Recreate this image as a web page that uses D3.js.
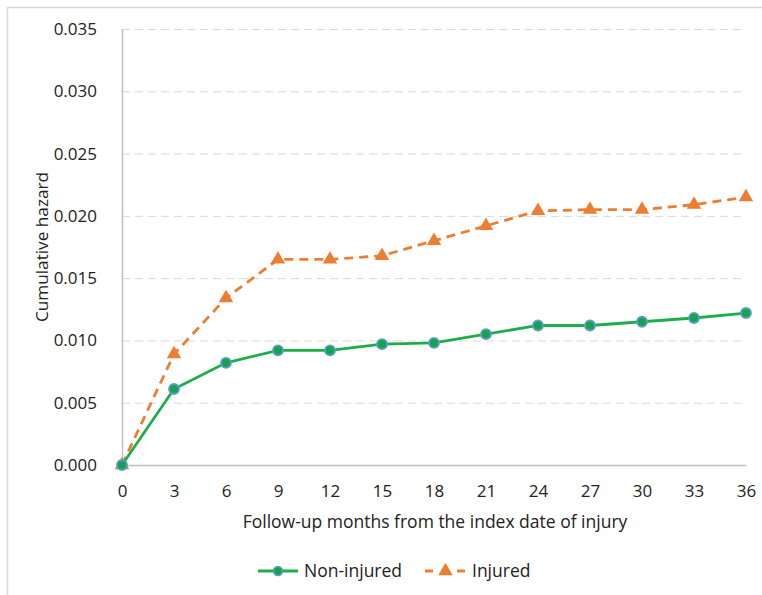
<html>
<head>
<script src="https://d3js.org/d3.v7.min.js"></script>
<style>
  body { margin: 0; background: #fff; }
  text { font-family: "Open Sans", "DejaVu Sans", sans-serif; fill: #222; }
  .gridlines line { stroke: #d9d9d9; stroke-dasharray: 8,5; }
  .gridlines .domain { stroke: none; }
  .axis .domain { stroke: #bfbfbf; stroke-width: 1.5; }
  .axis line { stroke: none; }
</style>
</head>
<body>
<svg id="chart" width="762" height="595"></svg>
<script>
const months = [0, 3, 6, 9, 12, 15, 18, 21, 24, 27, 30, 33, 36];
const nonInjured = [0, 0.0061, 0.0082, 0.0092, 0.0092, 0.0097, 0.0098, 0.0105, 0.0112, 0.0112, 0.0115, 0.0118, 0.0122];
const injured = [0, 0.0089, 0.0134, 0.0165, 0.0165, 0.0168, 0.0180, 0.0192, 0.0204, 0.0205, 0.0205, 0.0209, 0.0215];
const yTicks = [0, 0.005, 0.010, 0.015, 0.020, 0.025, 0.030, 0.035];

const svg = d3.select("svg#chart");
const margin = { top: 29, right: 16, bottom: 130, left: 122 };
const chartWidth = 762 - margin.left - margin.right;
const chartHeight = 595 - margin.top - margin.bottom;

// chart frame
svg.append("rect")
    .attr("x", 7.5).attr("y", 7.5)
    .attr("width", 800).attr("height", 800)
    .attr("fill", "none").attr("stroke", "#d9d9d9").attr("stroke-width", 1.5);

const xScale = d3.scaleLinear().domain([0, 36]).range([0, chartWidth]);
const yScale = d3.scaleLinear().domain([0, 0.035]).range([chartHeight, 0]);

const g = svg.append("g").attr("transform", `translate(${margin.left},${margin.top})`);

// gridlines
g.append("g")
    .attr("class", "gridlines")
    .call(d3.axisLeft(yScale).tickValues(yTicks.slice(1)).tickSize(-chartWidth).tickFormat(""));

// axes
const xAxis = g.append("g")
    .attr("class", "axis")
    .attr("transform", `translate(0,${chartHeight})`)
    .call(d3.axisBottom(xScale).tickValues(months).tickSizeOuter(0).tickPadding(14));
xAxis.selectAll("text").attr("font-size", 17).style("font-family", "'Open Sans', sans-serif");

const yAxis = g.append("g")
    .attr("class", "axis")
    .call(d3.axisLeft(yScale).tickValues(yTicks).tickFormat(d3.format(".3f")).tickSizeOuter(0).tickPadding(19));
yAxis.selectAll("text").attr("font-size", 17).style("font-family", "'Open Sans', sans-serif");

// titles
svg.append("text")
    .attr("x", margin.left + chartWidth / 2 + 1).attr("y", 528)
    .attr("text-anchor", "middle").attr("font-size", 17.5)
    .text("Follow-up months from the index date of injury");

svg.append("text")
    .attr("transform", "translate(48,247) rotate(-90)")
    .attr("text-anchor", "middle").attr("font-size", 17.2)
    .text("Cumulative hazard");

const line = d3.line().x((d, i) => xScale(months[i])).y(d => yScale(d));
const triangle = d3.symbol().type(d3.symbolTriangle).size(90);

// injured
g.append("path")
    .attr("d", line(injured))
    .attr("fill", "none").attr("stroke", "#ed7d31")
    .attr("stroke-width", 2.8).attr("stroke-dasharray", "9,6");
g.selectAll("path.tri")
    .data(injured)
    .join("path")
    .attr("class", "tri")
    .attr("d", triangle)
    .attr("transform", (d, i) => `translate(${xScale(months[i])},${yScale(d)})`)
    .attr("fill", "#ed7d31");

// non-injured
g.append("path")
    .attr("d", line(nonInjured))
    .attr("fill", "none").attr("stroke", "#1ead4b").attr("stroke-width", 2.8);
g.selectAll("circle.dot")
    .data(nonInjured)
    .join("circle")
    .attr("class", "dot")
    .attr("cx", (d, i) => xScale(months[i]))
    .attr("cy", d => yScale(d))
    .attr("r", 5)
    .attr("fill", "#16a34a")
    .attr("stroke", "#5b9bd5").attr("stroke-width", 1.8);

// legend
const legendY = 571;
const lg = svg.append("g");
lg.append("line")
    .attr("x1", 258).attr("x2", 298).attr("y1", legendY).attr("y2", legendY)
    .attr("stroke", "#1ead4b").attr("stroke-width", 2.8);
lg.append("circle")
    .attr("cx", 278).attr("cy", legendY).attr("r", 4.5)
    .attr("fill", "#16a34a").attr("stroke", "#5b9bd5").attr("stroke-width", 1.5);
lg.append("text")
    .attr("x", 304).attr("y", legendY + 6).attr("font-size", 17.5)
    .text("Non-injured");
lg.append("line")
    .attr("x1", 425).attr("x2", 466).attr("y1", legendY).attr("y2", legendY)
    .attr("stroke", "#ed7d31").attr("stroke-width", 2.8).attr("stroke-dasharray", "8,8");
lg.append("path")
    .attr("d", triangle)
    .attr("transform", `translate(445.5,${legendY})`)
    .attr("fill", "#ed7d31");
lg.append("text")
    .attr("x", 472).attr("y", legendY + 6).attr("font-size", 17.5)
    .text("Injured");
</script>
</body>
</html>
